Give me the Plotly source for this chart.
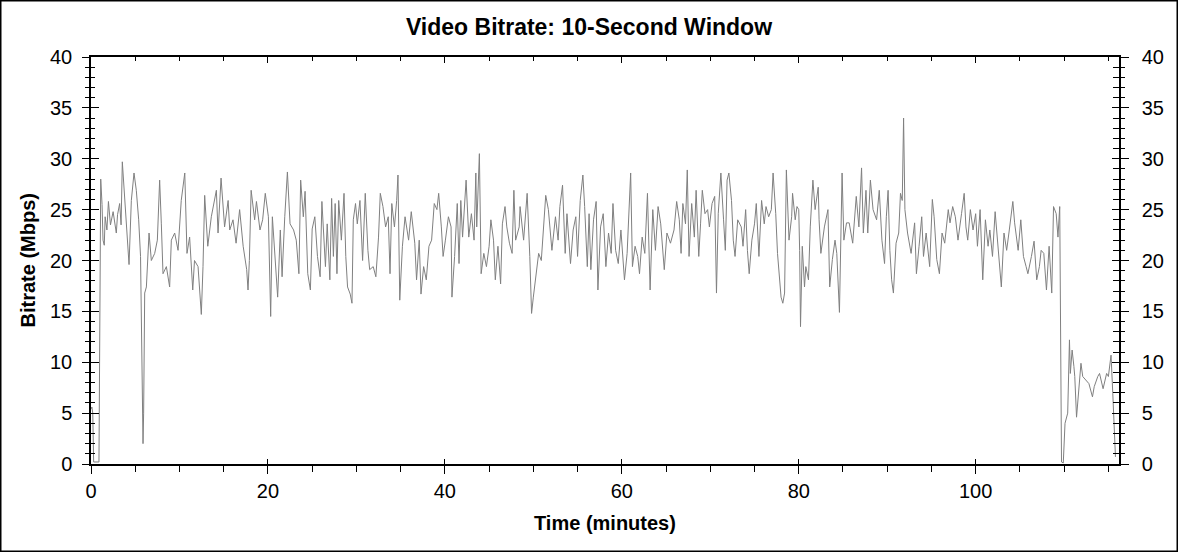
import plotly.graph_objects as go

# Time (minutes) and bitrate (Mbps)
minutes = [
    0.0, 0.1, 0.2, 0.3, 0.9, 1.0, 1.1, 1.25, 1.36, 1.5, 1.6, 1.8, 1.97, 2.2, 2.5, 2.86, 3.0, 3.24, 3.4, 3.54,
    3.8, 4.0, 4.3, 4.56, 4.86, 5.12, 5.39, 5.6, 5.76, 5.88, 5.95, 6.07, 6.26, 6.44, 6.56, 6.82, 7.2, 7.5, 7.76, 7.95,
    8.14, 8.52, 8.89, 9.08, 9.46, 9.84, 10.2, 10.6, 10.85, 11.15, 11.5, 11.7, 12.1, 12.47, 12.66, 12.85, 13.2, 13.6, 14.0, 14.17,
    14.36, 14.7, 15.1, 15.5, 15.68, 16.05, 16.4, 16.8, 17.2, 17.6, 17.75, 17.9, 18.1, 18.5, 18.7, 19.1, 19.4, 19.7, 20.05, 20.31,
    20.5, 20.8, 21.1, 21.4, 21.6, 21.9, 22.2, 22.5, 22.9, 23.2, 23.5, 23.7, 24.0, 24.2, 24.5, 24.8, 25.0, 25.3, 25.6, 25.9,
    26.1, 26.5, 26.7, 27.0, 27.2, 27.4, 27.6, 27.8, 28.0, 28.3, 28.6, 28.8, 29.0, 29.3, 29.5, 29.65, 29.9, 30.1, 30.4, 30.7,
    31.0, 31.3, 31.5, 31.9, 32.2, 32.5, 32.7, 33.0, 33.3, 33.6, 33.8, 34.0, 34.3, 34.55, 34.7, 34.9, 35.2, 35.5, 35.9, 36.2,
    36.6, 36.8, 37.1, 37.3, 37.6, 37.9, 38.2, 38.5, 38.8, 39.1, 39.3, 39.6, 39.8, 40.06, 40.4, 40.7, 40.8, 41.1, 41.4, 41.6,
    41.8, 42.0, 42.3, 42.4, 42.7, 43.0, 43.3, 43.5, 43.6, 43.9, 44.1, 44.4, 44.7, 45.0, 45.2, 45.5, 45.7, 46.0, 46.3, 46.5,
    46.8, 47.0, 47.3, 47.6, 47.8, 48.0, 48.4, 48.5, 48.9, 49.3, 49.6, 49.8, 50.0, 50.3, 50.6, 50.9, 51.2, 51.4, 51.7, 52.1,
    52.5, 52.8, 53.0, 53.3, 53.6, 53.8, 54.2, 54.5, 54.8, 55.0, 55.3, 55.6, 55.8, 56.1, 56.3, 56.5, 56.8, 57.1, 57.3, 57.6,
    57.9, 58.2, 58.5, 58.8, 59.0, 59.3, 59.6, 59.9, 60.3, 60.6, 61.0, 61.2, 61.5, 61.8, 62.0, 62.3, 62.6, 62.9, 63.2, 63.5,
    63.8, 64.1, 64.4, 64.8, 65.1, 65.5, 65.9, 66.2, 66.5, 66.7, 66.9, 67.2, 67.4, 67.6, 67.9, 68.2, 68.4, 68.7, 68.9, 69.1,
    69.4, 69.7, 69.9, 70.2, 70.5, 70.7, 70.9, 71.2, 71.5, 71.7, 71.9, 72.1, 72.4, 72.6, 72.8, 73.1, 73.5, 73.7, 74.0, 74.2,
    74.4, 74.7, 75.0, 75.2, 75.5, 75.8, 76.1, 76.3, 76.6, 76.9, 77.1, 77.4, 77.6, 77.8, 78.0, 78.2, 78.4, 78.6, 78.9, 79.2,
    79.3, 79.6, 79.8, 80.0, 80.1, 80.2, 80.4, 80.65, 80.8, 81.1, 81.3, 81.6, 81.85, 82.2, 82.3, 82.5, 82.9, 83.3, 83.5, 83.8,
    84.1, 84.3, 84.6, 84.9, 85.1, 85.4, 85.7, 86.1, 86.5, 86.8, 87.1, 87.3, 87.6, 87.8, 88.1, 88.4, 88.8, 89.1, 89.4, 89.7,
    89.9, 90.1, 90.3, 90.5, 90.7, 91.0, 91.3, 91.5, 91.7, 91.85, 92.0, 92.3, 92.7, 93.1, 93.3, 93.6, 93.9, 94.1, 94.4, 94.8,
    95.1, 95.3, 95.6, 95.9, 96.2, 96.5, 96.9, 97.1, 97.4, 97.7, 98.0, 98.4, 98.7, 98.9, 99.1, 99.4, 99.7, 100.0, 100.2, 100.5,
    100.8, 101.1, 101.4, 101.6, 101.9, 102.2, 102.5, 102.9, 103.2, 103.5, 103.8, 104.2, 104.4, 104.8, 105.1, 105.4, 105.7, 105.9, 106.3, 106.6,
    106.9, 107.2, 107.4, 107.7, 108.0, 108.3, 108.6, 108.8, 109.1, 109.3, 109.5, 109.6, 109.7, 109.9, 110.1, 110.4, 110.6, 110.7, 110.9, 111.1,
    111.2, 111.4, 111.6, 111.9, 112.1, 112.4, 112.8, 113.2, 113.4, 113.8, 114.0, 114.4, 114.8, 115.0, 115.3, 115.5, 115.7, 115.8,
]

mbps = [
    5.4, 5.6, 5.0, 0.2, 0.2, 16.0, 28.0, 25.5, 22.0, 21.5, 24.3, 23.0, 25.8, 23.5, 24.8, 22.7, 24.5, 25.6, 23.5, 29.7,
    25.9, 23.6, 19.6, 25.9, 28.6, 26.9, 24.0, 20.4, 12.2, 2.0, 5.0, 16.8, 17.4, 21.0, 22.7, 20.0, 20.7, 22.0, 27.9, 23.6,
    18.7, 19.4, 17.4, 22.0, 22.7, 21.0, 25.9, 28.6, 20.7, 22.3, 17.1, 20.0, 19.4, 14.7, 19.4, 26.4, 21.4, 24.3, 25.9, 26.9,
    22.7, 28.1, 23.3, 25.9, 23.0, 24.0, 21.7, 25.0, 21.4, 19.1, 17.1, 20.0, 26.9, 24.0, 25.8, 23.0, 24.0, 26.6, 24.3, 14.5,
    24.3, 20.7, 16.4, 23.0, 18.4, 24.3, 28.7, 23.6, 23.0, 22.0, 18.7, 27.9, 24.3, 26.8, 18.7, 17.1, 23.1, 24.3, 20.4, 18.4,
    25.8, 19.4, 23.6, 18.1, 26.1, 20.4, 25.6, 18.7, 25.9, 22.0, 26.6, 20.4, 17.4, 16.7, 15.8, 24.0, 25.6, 23.6, 25.9, 20.0,
    26.6, 21.0, 19.1, 19.4, 18.4, 22.3, 26.6, 25.3, 23.3, 24.3, 18.7, 25.6, 23.3, 25.9, 28.4, 16.1, 21.4, 24.3, 22.0, 24.8,
    21.7, 18.1, 22.0, 16.7, 19.4, 18.1, 21.4, 22.0, 25.6, 25.0, 26.6, 23.3, 20.4, 22.0, 24.3, 23.3, 16.4, 20.4, 25.6, 19.7,
    25.9, 22.3, 25.9, 27.9, 22.3, 24.6, 22.0, 28.6, 23.3, 30.5, 18.7, 20.7, 19.4, 21.4, 24.0, 22.0, 18.1, 21.4, 17.7, 23.6,
    25.3, 23.3, 21.7, 20.7, 26.9, 22.0, 23.3, 25.3, 22.0, 26.6, 20.4, 14.8, 16.4, 18.7, 20.7, 20.0, 23.3, 26.4, 25.0, 21.0,
    24.3, 22.0, 25.3, 27.4, 20.7, 24.6, 19.7, 23.0, 24.3, 20.4, 25.9, 28.4, 25.3, 19.4, 24.6, 19.1, 24.0, 25.8, 17.1, 23.3,
    24.6, 19.4, 22.7, 20.7, 25.6, 21.0, 19.7, 23.0, 18.1, 20.7, 28.6, 19.4, 21.4, 20.4, 18.7, 22.3, 20.7, 26.6, 17.1, 25.0,
    21.0, 25.3, 23.6, 19.1, 22.7, 21.7, 23.0, 25.8, 24.0, 20.7, 25.6, 23.6, 28.9, 20.4, 25.6, 22.3, 26.9, 20.4, 23.6, 26.9,
    24.6, 25.0, 23.3, 25.6, 26.3, 16.8, 24.6, 28.6, 24.0, 21.0, 27.9, 28.6, 25.9, 22.0, 20.4, 24.0, 23.3, 21.4, 25.0, 21.0,
    18.7, 22.0, 23.6, 25.6, 20.4, 25.9, 23.6, 25.3, 24.3, 25.0, 28.6, 24.6, 20.7, 18.1, 16.4, 15.8, 16.8, 28.9, 22.0, 24.3,
    26.6, 24.0, 25.3, 25.0, 21.0, 13.5, 21.4, 17.4, 19.4, 18.1, 23.3, 27.9, 25.0, 27.2, 24.0, 20.7, 23.3, 25.0, 17.4, 20.1,
    22.0, 20.7, 14.9, 28.6, 22.0, 23.7, 23.7, 21.7, 26.3, 23.3, 29.1, 22.7, 26.9, 22.7, 27.9, 25.0, 24.0, 26.9, 22.0, 19.7,
    24.3, 26.9, 21.0, 18.1, 16.8, 21.7, 22.7, 26.6, 25.9, 34.0, 25.0, 22.7, 20.7, 23.7, 18.7, 21.4, 24.3, 20.4, 22.7, 19.4,
    26.0, 24.3, 20.1, 18.7, 22.7, 21.7, 25.0, 23.7, 25.3, 24.3, 22.0, 24.6, 26.6, 23.3, 22.0, 25.0, 23.0, 24.6, 21.4, 25.0,
    18.1, 24.0, 21.4, 23.0, 20.4, 24.8, 21.4, 17.4, 22.7, 21.0, 23.0, 25.8, 23.7, 21.0, 24.0, 20.4, 19.4, 18.7, 20.4, 21.9,
    18.1, 19.4, 21.0, 20.7, 17.1, 21.4, 16.8, 25.3, 24.6, 22.3, 25.3, 8.3, 0.2, 0.1, 4.0, 5.0, 12.2, 8.9, 11.2, 9.6,
    8.6, 4.6, 6.9, 9.9, 8.6, 8.3, 7.9, 6.6, 7.6, 8.6, 8.9, 7.4, 8.9, 8.6, 10.7, 6.9, 1.7, 0.7,
]

x_range = [0, 116.2]
y_range = [0, 40]
x_major = 20
x_minor = 5
y_major = 5
y_minor = 1

title_text = "Video Bitrate: 10-Second Window"
x_title = "Time (minutes)"
y_title = "Bitrate (Mbps)"

FONT = "Liberation Sans, Arial, sans-serif"
W, H = 1178, 552
L, R, T, B = 91, 59, 57, 88
PW, PH = W - L - R, H - T - B

fig = go.Figure()
fig.add_trace(go.Scatter(
    x=minutes, y=mbps, mode="lines",
    line=dict(color="#808080", width=1),
    hoverinfo="skip", showlegend=False,
))
# empty helper traces so the mirrored / overlaid tick axes get drawn
for xa, ya in [("x2", "y"), ("x3", "y"), ("x", "y2"), ("x", "y3"), ("x", "y4")]:
    fig.add_trace(go.Scatter(x=[], y=[], xaxis=xa, yaxis=ya, mode="lines",
                             hoverinfo="skip", showlegend=False))

common = dict(showgrid=False, zeroline=False, tickcolor="black", tickwidth=1,
              tickfont=dict(family=FONT, size=20, color="black"))

fig.update_layout(
    width=W, height=H,
    margin=dict(l=L, r=R, t=T, b=B, pad=0),
    paper_bgcolor="white", plot_bgcolor="white",
    showlegend=False,
    title=dict(text="<b>" + title_text + "</b>", x=0.5, xref="container", xanchor="center",
               y=1 - 27 / H, yref="container", yanchor="middle",
               font=dict(family=FONT, size=23, color="black")),
    xaxis=dict(range=x_range, dtick=x_major, tick0=0, ticks="outside", ticklen=8,
               showline=True, linecolor="black", linewidth=1.5,
               minor=dict(dtick=x_minor, ticks="outside", ticklen=6, tickcolor="black", tickwidth=1),
               **common),
    xaxis2=dict(range=x_range, overlaying="x", anchor="y", side="bottom", dtick=x_major, tick0=0,
                ticks="inside", ticklen=5, showticklabels=False, showline=False, **common),
    xaxis3=dict(range=x_range, overlaying="x", anchor="y", side="top", dtick=x_major, tick0=0,
                ticks="inside", ticklen=6, showticklabels=False, showline=True, linecolor="black", linewidth=1.5,
                minor=dict(dtick=x_minor, ticks="inside", ticklen=4, tickcolor="black", tickwidth=1),
                **common),
    yaxis=dict(range=y_range, dtick=y_major, tick0=0, ticks="outside", ticklen=7, ticklabelstandoff=6,
               showline=True, linecolor="black", linewidth=1.5,
               minor=dict(dtick=y_minor, ticks="outside", ticklen=4, tickcolor="black", tickwidth=1),
               **common),
    yaxis2=dict(range=y_range, overlaying="y", anchor="x", side="left", dtick=y_major, tick0=0,
                ticks="inside", ticklen=8, showticklabels=False, showline=False,
                minor=dict(dtick=y_minor, ticks="inside", ticklen=4, tickcolor="black", tickwidth=1),
                **common),
    yaxis3=dict(range=y_range, overlaying="y", anchor="x", side="right", dtick=y_major, tick0=0,
                ticks="outside", ticklen=8, ticklabelstandoff=9, showticklabels=True,
                showline=True, linecolor="black", linewidth=1.5,
                minor=dict(dtick=y_minor, ticks="outside", ticklen=4, tickcolor="black", tickwidth=1),
                **common),
    yaxis4=dict(range=y_range, overlaying="y", anchor="x", side="right", dtick=y_major, tick0=0,
                ticks="inside", ticklen=7, showticklabels=False, showline=False,
                minor=dict(dtick=y_minor, ticks="inside", ticklen=6, tickcolor="black", tickwidth=1),
                **common),
    annotations=[
        dict(text="<b>" + x_title + "</b>", xref="paper", yref="paper", x=0.5, y=(464 - 523) / PH,
             xanchor="center", yanchor="middle", showarrow=False,
             font=dict(family=FONT, size=20, color="black")),
        dict(text="<b>" + y_title + "</b>", xref="paper", yref="paper", x=(27 - L) / PW, y=0.5,
             xanchor="center", yanchor="middle", textangle=-90, showarrow=False,
             font=dict(family=FONT, size=20, color="black")),
    ],
    shapes=[
        dict(type="rect", xref="paper", yref="paper", layer="above",
             x0=(0.5 - L) / PW, x1=(W - 0.5 - L) / PW, y0=(464 - (H - 0.5)) / PH, y1=(464 - 0.5) / PH,
             line=dict(color="black", width=2), fillcolor="rgba(0,0,0,0)"),
    ],
)

fig.write_html("out.html", config={"displayModeBar": False},
               post_script="document.body.style.margin='0';")
